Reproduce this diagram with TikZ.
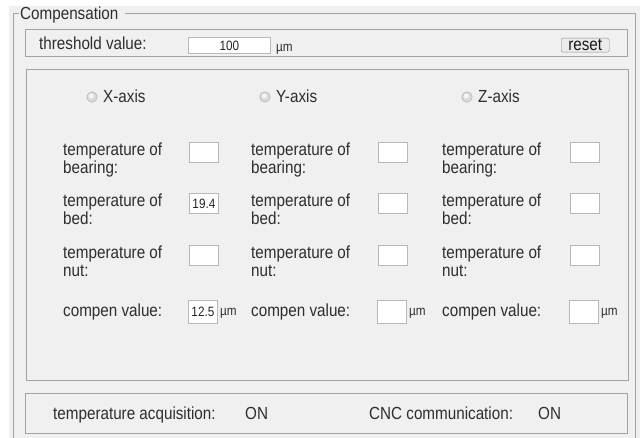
\documentclass[tikz,border=0pt]{standalone}
\usepackage{fontspec}
\setmainfont{Liberation Sans}
\newfontfamily\guifont[FakeStretch=0.87]{Liberation Sans}
\usetikzlibrary{positioning}
\definecolor{panel}{HTML}{F0F0F0}
\definecolor{edge}{HTML}{A3A3A3}
\definecolor{txt}{HTML}{2E2E2E}
\definecolor{boxedge}{HTML}{B8B8B8}

\begin{document}
\begin{tikzpicture}[x=1pt,y=-1pt,
  lbl/.style={font=\guifont\fontsize{17.5}{18}\selectfont,text=txt,inner sep=0pt,align=left},
  small/.style={font=\guifont\fontsize{13.5}{15}\selectfont,text=txt,inner sep=0pt},
  entry/.style={draw=boxedge,fill=white,line width=0.8pt,minimum width=29pt,minimum height=20pt,
     inner sep=0pt,font=\guifont\fontsize{13.5}{15}\selectfont,text=black!85},
  frame/.style={draw=edge,line width=1pt}]
  \useasboundingbox (0,0) rectangle (640,438);
  \fill[panel] (9,6) rectangle (640,438);
  % group box
  \draw[frame] (19,14) -- (13,14) -- (13,438);
  \draw[frame] (125,14) -- (635,14) -- (635,438);
  \node[lbl,anchor=base west] (title) at (20,20) {Compensation};
  % threshold row
  \draw[frame] (25,30) rectangle (627,57);
  \node[lbl,anchor=base west] (thr) at (39,50) {threshold value:};
  \node[entry,minimum width=82pt,minimum height=16pt,anchor=north west] (thrval) at (188,37) {100};
  \node[small,anchor=base west] (thrunit) at (276,52) {µm};
  \node[draw=black!45,fill=black!8,rounded corners=2pt,minimum width=48pt,minimum height=14pt,inner sep=0pt,
     font=\guifont\fontsize{17.5}{18}\selectfont,text=black!90,anchor=north west] (reset) at (561,38) {reset};
  % axis panel
  \draw[frame] (26,70) rectangle (628,380);
  \foreach \c/\lx/\bx/\ax/\vb/\vc in {X/63/189/103/19.4/12.5,Y/251/378/276//,Z/442/570/478//}{
    % radio button
    \fill[black!14,draw=black!30,line width=0.6pt] (\ax-11,97) circle (5.2pt);
    \fill[black!4] (\ax-11.8,96) circle (2.4pt);
    \node[lbl,anchor=base west] (axis\c) at (\ax,102.5) {\c-axis};
    % temperatures
    \foreach \r/\t/\w/\v in {bear/142/bearing:/{},bed/193/bed:/\vb,nut/245/nut:/{}}{
      \node[entry,anchor=north west] (\r\c) at (\bx,\t) {\v};
      \node[lbl,anchor=north west] (t\r\c) at (\lx,\t+0.5) {temperature of\\\w};
    }
    % compensation value
    \node[entry,minimum height=23pt,anchor=north west] (comp\c) at (\bx-1,300) {\vc};
    \node[lbl,anchor=base west] (tcomp\c) at (\lx,317) {compen value:};
    \node[small,anchor=base west] (unit\c) at (\bx+31,316) {µm};
  }
  % status row
  \draw[frame] (25,393) rectangle (627,433);
  \node[lbl,anchor=base west] (acq) at (53,419) {temperature acquisition:};
  \node[lbl,anchor=base west] (acqon) at (245,419) {ON};
  \node[lbl,anchor=base west] (cnc) at (369,419) {CNC communication:};
  \node[lbl,anchor=base west] (cncon) at (538,419) {ON};
\end{tikzpicture}
\end{document}
